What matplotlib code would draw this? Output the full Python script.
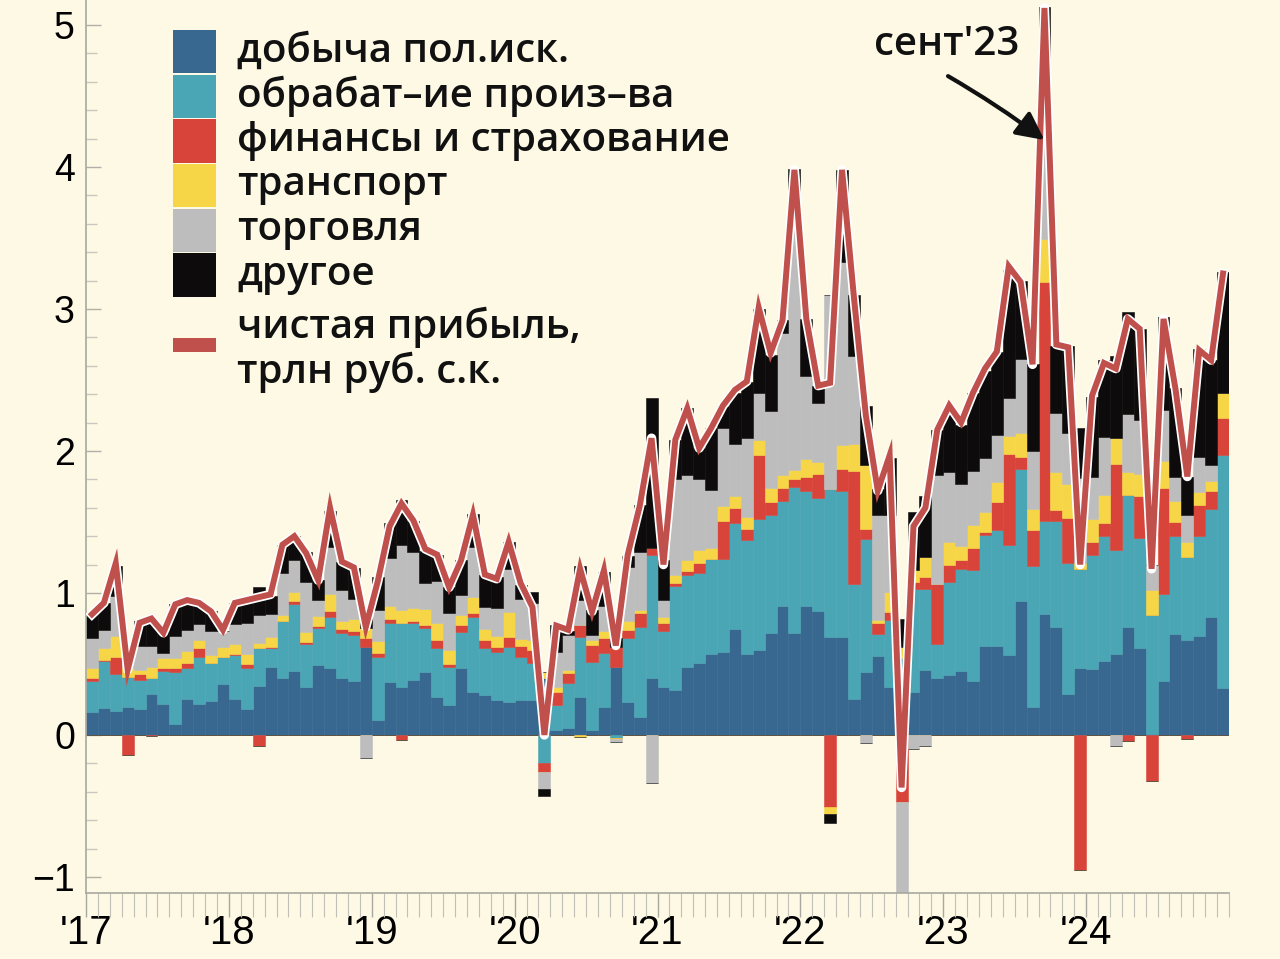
import numpy as np
import matplotlib
matplotlib.use("Agg")
import matplotlib.pyplot as plt
import matplotlib.patheffects as pe
from matplotlib.patches import Rectangle

# ---------------- data (trillion rub, monthly Jan 2017 .. Dec 2024) ----------------
year_labels = ["'17", "'18", "'19", "'20", "'21", "'22", "'23", "'24"]

mining = [
    0.16, 0.19, 0.17, 0.20, 0.18, 0.29, 0.22, 0.08, 0.25, 0.22, 0.24, 0.36,
    0.25, 0.18, 0.345, 0.48, 0.40, 0.45, 0.34, 0.49, 0.47, 0.40, 0.38, 0.62,
    0.105, 0.375, 0.34, 0.39, 0.446, 0.27, 0.21, 0.474, 0.305, 0.28, 0.246, 0.235,
    0.246, 0.246, 0.40, 0.035, 0.047, 0.27, 0.035, 0.20, 0.48, 0.235, 0.13, 0.40,
    0.336, 0.32, 0.48, 0.51, 0.57, 0.585, 0.745, 0.57, 0.60, 0.716, 0.906, 0.716,
    0.91, 0.875, 0.69, 0.69, 0.25, 0.44, 0.555, 0.34, 0.05, 0.30, 0.455, 0.40,
    0.42, 0.45, 0.38, 0.63, 0.63, 0.56, 0.94, 0.20, 0.85, 0.76, 0.29, 0.47,
    0.465, 0.52, 0.57, 0.757, 0.61, 0.01, 0.377, 0.713, 0.67, 0.70, 0.83, 0.333]

manufacturing = [
    0.22, 0.33, 0.26, 0.21, 0.21, 0.11, 0.23, 0.36, 0.22, 0.33, 0.27, 0.19,
    0.31, 0.29, 0.265, 0.13, 0.40, 0.47, 0.30, 0.26, 0.36, 0.315, 0.325, 0.0,
    0.445, 0.41, 0.446, 0.40, 0.31, 0.34, 0.27, 0.254, 0.528, 0.33, 0.341, 0.385,
    0.30, 0.26, -0.20, 0.175, 0.317, 0.42, 0.48, 0.375, -0.02, 0.445, 0.633, 0.868,
    0.394, 0.73, 0.645, 0.63, 0.67, 0.655, 0.745, 0.804, 0.92, 0.834, 0.744, 1.03,
    0.81, 0.795, 1.04, 1.03, 0.81, 0.94, 0.155, 0.47, 0.49, 0.73, 0.575, 0.24,
    0.66, 0.72, 0.78, 0.78, 0.81, 0.775, 0.935, 0.99, 0.66, 0.75, 0.92, 0.70,
    0.805, 0.88, 0.73, 0.933, 0.776, 0.835, 0.613, 0.687, 0.58, 0.70, 0.76, 1.637]

finance = [
    0.02, 0.01, 0.12, -0.14, 0.04, -0.01, 0.02, 0.03, 0.04, 0.06, 0.0, 0.0,
    0.01, 0.03, -0.08, 0.01, 0.0, 0.02, 0.015, 0.02, 0.04, 0.03, 0.03, 0.06,
    0.025, 0.03, -0.035, 0.015, 0.017, 0.06, 0.02, 0.047, 0.028, 0.06, 0.03, 0.07,
    0.08, 0.09, -0.06, 0.095, 0.07, 0.085, 0.118, 0.105, 0.14, 0.06, 0.094, 0.047,
    0.06, 0.02, 0.03, 0.07, 0.0, 0.265, 0.105, 0.076, 0.455, 0.09, 0.09, 0.06,
    0.10, 0.17, -0.505, 0.15, 0.80, 0.07, 0.08, 0.055, -0.47, 0.05, 0.08, 0.42,
    0.12, 0.06, 0.16, 0.02, 0.20, 0.645, 0.085, 0.25, 1.68, 0.075, 0.32, -0.95,
    0.09, 0.09, 0.61, -0.04, 0.294, -0.325, 0.75, 0.10, -0.03, 0.22, 0.13, 0.265]

transport = [
    0.07, 0.08, 0.15, 0.06, 0.03, 0.08, 0.07, 0.07, 0.08, 0.06, 0.05, 0.07,
    0.07, 0.07, 0.04, 0.07, 0.045, 0.07, 0.07, 0.065, 0.125, 0.055, 0.08, 0.07,
    0.085, 0.09, 0.095, 0.09, 0.115, 0.117, 0.10, 0.07, 0.11, 0.074, 0.08, 0.176,
    0.05, 0.07, 0.04, 0.035, 0.024, -0.015, 0.035, 0.055, -0.01, 0.06, 0.023, 0.0,
    0.04, 0.06, 0.075, 0.09, 0.08, 0.105, 0.085, 0.085, 0.10, 0.10, 0.09, 0.06,
    0.12, 0.08, -0.05, 0.17, 0.19, 0.45, 0.02, 0.145, 0.08, 0.08, 0.14, 0.0,
    0.16, 0.10, 0.16, 0.14, 0.145, 0.125, 0.165, 0.15, 0.30, 0.27, 0.24, 0.04,
    0.16, 0.20, 0.18, 0.16, 0.16, 0.175, 0.19, 0.15, 0.11, 0.09, 0.07, 0.175]

trade = [
    0.21, 0.13, 0.28, 0.14, 0.17, 0.15, 0.04, 0.16, 0.15, 0.11, 0.17, 0.11,
    0.14, 0.22, 0.195, 0.165, 0.295, 0.22, 0.355, 0.115, 0.33, 0.22, 0.14, -0.16,
    0.22, 0.34, 0.46, 0.39, 0.18, 0.30, 0.257, 0.141, 0.356, 0.156, 0.195, 0.304,
    0.28, 0.26, -0.12, 0.245, 0.246, 0.175, 0.035, 0.17, -0.02, 0.38, 0.41, -0.34,
    0.12, 0.67, 0.60, 0.50, 0.405, 0.55, 0.37, 0.555, 0.335, 0.54, 1.00, 1.71,
    0.59, 0.42, 1.37, 1.29, 0.62, -0.06, 0.74, 0.54, -0.64, -0.10, -0.08, 0.77,
    0.49, 0.44, 0.38, 0.38, 0.325, 0.27, 0.525, 0.41, 0.69, 0.415, 0.36, 0.60,
    0.30, 0.41, -0.076, 0.41, 0.38, 0.18, 0.36, 0.17, 0.19, 0.25, 0.11, 0.0]

other = [
    0.18, 0.19, 0.21, 0.0, 0.17, 0.19, 0.15, 0.22, 0.21, 0.15, 0.14, 0.0,
    0.15, 0.15, 0.20, 0.125, 0.20, 0.17, 0.21, 0.14, 0.255, 0.20, 0.22, 0.13,
    0.23, 0.245, 0.315, 0.22, 0.23, 0.18, 0.188, 0.244, 0.23, 0.227, 0.223, 0.19,
    0.10, 0.08, -0.05, 0.19, 0.03, 0.24, 0.176, 0.24, 0.06, 0.08, 0.33, 1.055,
    0.28, 0.28, 0.47, 0.22, 0.435, 0.16, 0.36, 0.395, 0.59, 0.395, 0.09, 0.41,
    0.40, 0.12, -0.067, 0.65, 0.43, 0.42, 0.18, 0.40, 0.20, 0.41, 0.43, 0.32,
    0.46, 0.41, 0.55, 0.61, 0.59, 0.90, 0.55, 0.61, 0.95, 0.47, 0.61, 0.35,
    0.56, 0.54, 0.58, 0.72, 0.64, 0.0, 0.65, 0.62, 0.27, 0.76, 0.74, 0.85]

net_profit = [
    0.85, 0.93, 1.21, 0.46, 0.79, 0.82, 0.72, 0.92, 0.95, 0.93, 0.87, 0.74,
    0.93, 0.95, 0.97, 0.99, 1.34, 1.40, 1.28, 1.09, 1.60, 1.22, 1.18, 0.76,
    1.08, 1.47, 1.63, 1.51, 1.31, 1.27, 1.04, 1.23, 1.55, 1.13, 1.10, 1.36,
    1.07, 0.90, 0.00, 0.77, 0.74, 1.17, 0.87, 1.16, 0.63, 1.27, 1.61, 2.09,
    1.20, 2.08, 2.30, 2.02, 2.16, 2.32, 2.43, 2.49, 3.01, 2.69, 2.92, 3.98,
    2.93, 2.46, 2.48, 3.98, 3.08, 2.25, 1.72, 1.97, -0.37, 1.47, 1.60, 2.15,
    2.32, 2.20, 2.41, 2.58, 2.70, 3.30, 3.19, 2.61, 5.12, 2.75, 2.73, 1.20,
    2.39, 2.62, 2.58, 2.93, 2.86, 1.17, 2.93, 2.44, 1.82, 2.71, 2.64, 3.25]

series_names = ["добыча пол.иск.", "обрабат–ие произ–ва", "финансы и страхование",
                "транспорт", "торговля", "другое"]
line_name = "чистая прибыль,\nтрлн руб. с.к."
annotation_text = "сент'23"

# ---------------- style ----------------
BG = "#fdf9e4"
colors = ["#386890", "#4aa6b4", "#d9443a", "#f6d646", "#bdbdbd", "#0d0b0b"]
LINE_C = "#c0504c"
TXT_FONT = ['Open Sans', 'DejaVu Sans']
plt.rcParams['font.family'] = TXT_FONT
TXT_SIZE = 29
TXT_WEIGHT = 'semibold'

fig = plt.figure(figsize=(12.8, 9.59), dpi=100, facecolor=BG)
ax = fig.add_axes([86 / 1280, 66 / 959, (1229 - 86) / 1280, 893 / 959])
ax.set_facecolor(BG)

x = np.arange(len(net_profit))
pos_bottom = np.zeros(len(x))
neg_bottom = np.zeros(len(x))
for vals, c in zip([mining, manufacturing, finance, transport, trade, other], colors):
    v = np.asarray(vals, dtype=float)
    pos = np.where(v > 0, v, 0.0)
    neg = np.where(v < 0, v, 0.0)
    ax.bar(x, pos, bottom=pos_bottom, width=1.0, color=c, edgecolor=c, linewidth=0.4, zorder=2)
    ax.bar(x, neg, bottom=neg_bottom, width=1.0, color=c, edgecolor=c, linewidth=0.4, zorder=2)
    pos_bottom += pos
    neg_bottom += neg

ax.plot(x, net_profit, color=LINE_C, lw=4.3, zorder=5, solid_joinstyle='miter',
        path_effects=[pe.Stroke(linewidth=6.8, foreground='white', joinstyle='round'),
                      pe.Normal()])

ax.set_xlim(-0.5, len(x) - 0.5)
ax.set_ylim(-1.113, 5.176)

# axes styling
for s in ['top', 'right']:
    ax.spines[s].set_visible(False)
ax.spines['left'].set_color('#a8a8a0')
ax.spines['bottom'].set_color('#a8a8a0')
ax.spines['left'].set_linewidth(1.2)
ax.spines['bottom'].set_linewidth(1.2)

ax.set_yticks(range(-1, 6))
ax.set_yticklabels([str(v).replace('-', '\u2212') for v in range(-1, 6)],
                   fontsize=27, family='Liberation Sans')
ax.set_yticks(np.arange(-1.0, 5.2, 0.2), minor=True)
ax.tick_params(axis='y', which='major', direction='in', length=11, width=1, color='#b0b0a8', pad=8)
ax.tick_params(axis='y', which='minor', direction='in', length=8, width=1, color='#c8c8c0')

ax.set_xticks(np.arange(len(year_labels)) * 12 - 0.5)
ax.set_xticklabels(year_labels, fontsize=29, family='Liberation Sans')
ax.set_xticks(np.arange(-0.5, len(x), 1), minor=True)
ax.tick_params(axis='x', which='major', direction='out', length=17, width=1, color='#a8a8a0', pad=-2)
ax.tick_params(axis='x', which='minor', direction='out', length=17, width=0.8, color='#c0c0b8')

# annotation: text and a separate arrow
ax.text(71.8, 4.86, annotation_text, fontsize=TXT_SIZE, fontweight=TXT_WEIGHT,
        ha='center', va='center', color='#111', zorder=6)
ax.annotate('', xy=(80.0, 4.19), xytext=(71.9, 4.64),
            arrowprops=dict(arrowstyle='-|>', color='#111', lw=3.0, mutation_scale=42,
                            shrinkA=0, shrinkB=0, connectionstyle='arc3,rad=-0.03'),
            zorder=6)

# legend (manual, in figure pixels)
W, H = 1280, 959
def fx(px):
    return px / W
def fy(py):
    return 1 - py / H

top0, pitch = 30, 44.7
for k, (name, c) in enumerate(zip(series_names, colors)):
    t = top0 + k * pitch
    fig.patches.append(Rectangle((fx(173), fy(t + pitch - 1.5)), fx(216) - fx(173),
                                 (pitch - 1.5) / H, transform=fig.transFigure,
                                 facecolor=c, edgecolor='none', zorder=10))
    fig.text(fx(237), fy(t + pitch / 2 - 1), name, fontsize=TXT_SIZE, fontweight=TXT_WEIGHT,
             va='center', ha='left', color='#111')

fig.patches.append(Rectangle((fx(173), fy(352)), fx(216) - fx(173), 14 / H,
                             transform=fig.transFigure, facecolor=LINE_C, edgecolor='none', zorder=10))
fig.text(fx(237), fy(350), line_name, fontsize=TXT_SIZE, fontweight=TXT_WEIGHT, va='center',
         ha='left', color='#111', linespacing=1.1)

fig.savefig("out.png", dpi=100, facecolor=BG)
